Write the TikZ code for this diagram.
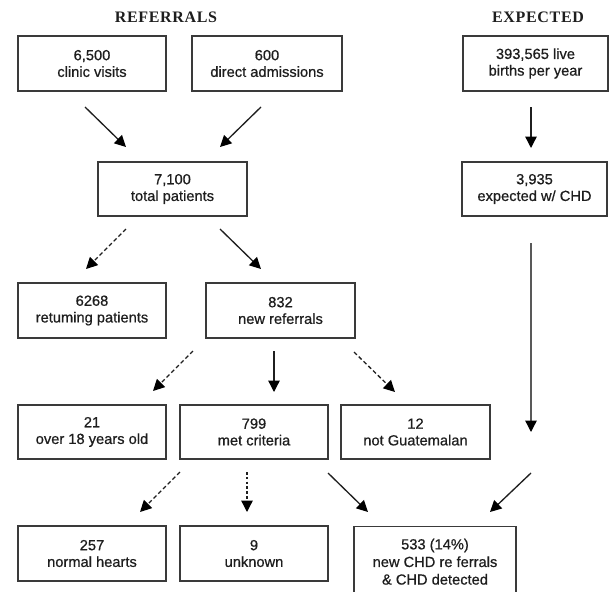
\documentclass[tikz,border=0pt]{standalone}
\usepackage{fontspec}
\setmainfont{Liberation Sans}
\newfontfamily\boxfont[FakeBold=0.6]{Liberation Sans}
\newfontfamily\titlefont{Liberation Serif}
\usetikzlibrary{arrows.meta}
\definecolor{ink}{HTML}{1E1E1E}
\definecolor{edge}{HTML}{3A3A3A}
\begin{document}
\begin{tikzpicture}[x=0.75pt,y=-0.75pt,
  boxnode/.style={draw=edge, line width=1.1pt, align=center, text=ink,
    font=\boxfont\fontsize{11}{12.5}\selectfont, inner sep=0pt,
    minimum width=148*0.75pt, minimum height=55*0.75pt},
  titlenode/.style={font=\titlefont\bfseries\fontsize{12}{13}\selectfont, text=ink, inner sep=0pt},
  conn/.style={draw=black!88, line width=1pt, -{Triangle[length=8.5pt,width=8.5pt,color=black]}},
  dashconn/.style={conn, dash pattern=on 3pt off 2pt},
  dotconn/.style={conn, dash pattern=on 2pt off 1.6pt}
]
\useasboundingbox (0,0) rectangle (610,592);
\fill[white] (0,0) rectangle (610,592);

% titles
\node[titlenode] (tref) at (166,17) {R\kern0.5pt E\kern0.5pt F\kern0.5pt E\kern0.5pt R\kern0.5pt R\kern0.5pt A\kern0.5pt L\kern0.5pt S};
\node[titlenode] (texp) at (538,17) {E\kern0.5pt X\kern0.5pt P\kern0.5pt E\kern0.5pt C\kern0.5pt T\kern0.5pt E\kern0.5pt D};

% boxes
\node[boxnode] (clinic) at (92,63.5) {6,500\\clinic visits};
\node[boxnode, minimum width=150*0.75pt] (direct) at (267,63.5) {600\\direct admissions};
\node[boxnode, minimum width=145*0.75pt] (births) at (535.5,63.5) {393,565 live\\births per year};
\node[boxnode, minimum width=149*0.75pt, minimum height=54*0.75pt] (total) at (172.5,189) {7,100\\total patients};
\node[boxnode, minimum width=145*0.75pt, minimum height=54*0.75pt] (expct) at (534.5,189) {3,935\\expected w/ CHD};
\node[boxnode] (ret) at (92,310.5) {6268\\retuming patients};
\node[boxnode, minimum width=149*0.75pt] (newref) at (280.5,310.5) {832\\new referrals};
\node[boxnode, minimum height=54*0.75pt] (over) at (92,432) {21\\over 18 years old};
\node[boxnode, minimum height=54*0.75pt] (met) at (254,432) {799\\met criteria};
\node[boxnode, minimum width=149*0.75pt, minimum height=54*0.75pt] (notg) at (415.5,432) {12\\not Guatemalan};
\node[boxnode] (normal) at (92,553.5) {257\\normal hearts};
\node[boxnode] (unk) at (254,553.5) {9\\unknown};
\node[boxnode, anchor=north, minimum width=162*0.75pt, minimum height=70*0.75pt,
  font=\boxfont\fontsize{11}{13.2}\selectfont] (chd) at (435,526) {533 (14\%)\\new CHD re ferrals\\\& CHD detected};

% connector end points
\coordinate (a1s) at (85,107);   \coordinate (a1e) at (126,147);
\coordinate (a2s) at (261,107);  \coordinate (a2e) at (220,147);
\coordinate (a3s) at (531,107);  \coordinate (a3e) at (531,148);
\coordinate (a4s) at (126,229);  \coordinate (a4e) at (86,269);
\coordinate (a5s) at (220,229);  \coordinate (a5e) at (261,269);
\coordinate (a6s) at (531,243);  \coordinate (a6e) at (531,432);
\coordinate (a7s) at (193,351);  \coordinate (a7e) at (153,391);
\coordinate (a8s) at (274,351);  \coordinate (a8e) at (274,392);
\coordinate (a9s) at (354,352);  \coordinate (a9e) at (395,392);
\coordinate (a10s) at (180,472); \coordinate (a10e) at (140,512);
\coordinate (a11s) at (247,472); \coordinate (a11e) at (247,512);
\coordinate (a12s) at (328,473); \coordinate (a12e) at (368,512);
\coordinate (a13s) at (531,473); \coordinate (a13e) at (490,512);

% connectors
\draw[conn] (a1s) -- (a1e);
\draw[conn] (a2s) -- (a2e);
\draw[conn] (a3s) -- (a3e);
\draw[dashconn] (a4s) -- (a4e);
\draw[conn] (a5s) -- (a5e);
\draw[conn, draw=black!65] (a6s) -- (a6e);
\draw[dashconn] (a7s) -- (a7e);
\draw[conn] (a8s) -- (a8e);
\draw[dashconn] (a9s) -- (a9e);
\draw[dashconn] (a10s) -- (a10e);
\draw[dotconn] (a11s) -- (a11e);
\draw[conn] (a12s) -- (a12e);
\draw[conn] (a13s) -- (a13e);
\end{tikzpicture}
\end{document}
